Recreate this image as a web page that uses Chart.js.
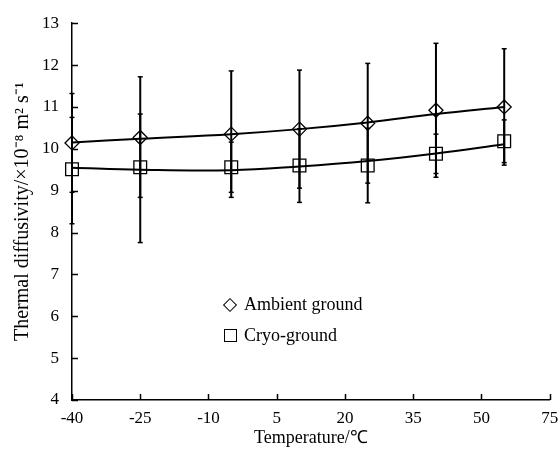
<!DOCTYPE html>
<html>
<head>
<meta charset="utf-8">
<script src="https://cdn.jsdelivr.net/npm/chart.js@4/dist/chart.umd.min.js"></script>
<style>
  html, body { margin: 0; padding: 0; background: #fff; }
  #wrap { position: relative; width: 560px; height: 466px; }
  #legend { position: absolute; left: 223px; top: 289px; font-family: "Liberation Serif", "Times New Roman", serif; font-size: 18px; color: #000; }
  .row { display: flex; align-items: center; height: 31px; }
  .mk { width: 14px; height: 14px; display: flex; align-items: center; justify-content: center; margin-right: 7px; }
  .dia { width: 8px; height: 8px; border: 1.3px solid #000; transform: rotate(45deg); }
  .sq { width: 11px; height: 11px; border: 1.2px solid #000; }
</style>
</head>
<body>
<div id="wrap">
  <canvas id="c" width="560" height="466"></canvas>
  <div id="legend">
    <div class="row"><span class="mk"><span class="dia"></span></span>Ambient ground</div>
    <div class="row"><span class="mk"><span class="sq"></span></span>Cryo-ground</div>
  </div>
</div>
<script>
// ---- data ----
const temps = [-40, -25, -5, 10, 25, 40, 55];
const ambient = [10.14, 10.27, 10.35, 10.47, 10.61, 10.92, 11.00];
const cryo = [9.51, 9.56, 9.56, 9.60, 9.60, 9.88, 10.18];
// error bar extents (upper / lower)
const ambientErrUp = [1.18, 1.45, 1.51, 1.41, 1.43, 1.60, 1.39];
const ambientErrDown = [1.18, 1.43, 1.51, 1.41, 1.43, 1.60, 1.39];
const cryoErrUp = [1.24, 1.27, 0.60, 0.88, 0.89, 0.47, 0.51];
const cryoErrDown = [1.30, 1.80, 0.60, 0.88, 0.89, 0.47, 0.51];
// trend curves at the same temperatures
const ambientTrend = [10.15, 10.24, 10.35, 10.47, 10.63, 10.83, 11.00];
const cryoTrend = [9.55, 9.50, 9.49, 9.58, 9.71, 9.89, 10.11];
// axis ticks (the reference's last tick, at 65, is labelled "75")
const xTickValues = [-40, -25, -10, 5, 20, 35, 50, 65];
const xTickLabels = ['-40', '-25', '-10', '5', '20', '35', '50', '75'];
const yTicks = [4, 5, 6, 7, 8, 9, 10, 11, 12, 13];

const pts = (ys) => temps.map((t, i) => ({ x: t, y: ys[i] }));
const errPts = (ys, up, down) => {
  const d = [];
  temps.forEach((t, i) => {
    d.push({ x: t, y: ys[i] + up[i] }, { x: t, y: ys[i] - down[i] }, { x: t, y: null });
  });
  return d;
};

const FONT = '"Liberation Serif", "Times New Roman", serif';

const inwardTicks = {
  id: 'inwardTicks',
  afterDatasetsDraw(chart) {
    const { ctx, chartArea: { left, bottom }, scales: { x, y } } = chart;
    ctx.save();
    ctx.strokeStyle = '#000';
    ctx.lineWidth = 1.5;
    ctx.beginPath();
    y.ticks.forEach(t => {
      const py = Math.round(y.getPixelForValue(t.value)) + 0.5;
      ctx.moveTo(left, py); ctx.lineTo(left + 6, py);
    });
    x.ticks.forEach(t => {
      const px = Math.round(x.getPixelForValue(t.value)) + 0.5;
      ctx.moveTo(px, bottom); ctx.lineTo(px, bottom - 6);
    });
    ctx.stroke();
    ctx.restore();
  }
};

new Chart(document.getElementById('c'), {
  type: 'scatter',
  data: {
    datasets: [
      { label: 'Ambient error', data: errPts(ambient, ambientErrUp, ambientErrDown), showLine: true, spanGaps: false, clip: false,
        borderColor: '#000', borderWidth: 2, pointStyle: 'line', pointRadius: 2.5, pointBorderWidth: 1.5,
        pointBorderColor: '#000', pointBackgroundColor: '#000' },
      { label: 'Cryo error', data: errPts(cryo, cryoErrUp, cryoErrDown), showLine: true, spanGaps: false, clip: false,
        borderColor: '#000', borderWidth: 2, pointStyle: 'line', pointRadius: 2.5, pointBorderWidth: 1.5,
        pointBorderColor: '#000', pointBackgroundColor: '#000' },
      { label: 'Ambient trend', data: pts(ambientTrend), showLine: true, tension: 0.4, clip: false,
        borderColor: '#000', borderWidth: 2, pointRadius: 0 },
      { label: 'Cryo trend', data: pts(cryoTrend), showLine: true, tension: 0.4, clip: false,
        borderColor: '#000', borderWidth: 2, pointRadius: 0 },
      { label: 'Ambient ground', data: pts(ambient), showLine: false, pointStyle: 'rectRot', pointRadius: 7, clip: false,
        pointBorderColor: '#000', pointBackgroundColor: 'rgba(255,255,255,0)', pointBorderWidth: 1.3 },
      { label: 'Cryo-ground', data: pts(cryo), showLine: false, pointStyle: 'rect', pointRadius: 9, clip: false,
        pointBorderColor: '#000', pointBackgroundColor: 'rgba(255,255,255,0)', pointBorderWidth: 1.3 }
    ]
  },
  options: {
    responsive: false,
    animation: false,
    devicePixelRatio: 1,
    layout: { padding: { top: 22, right: 8, left: 0, bottom: 0 } },
    plugins: { legend: { display: false }, tooltip: { enabled: false } },
    scales: {
      x: {
        type: 'linear', min: -40, max: 65,
        afterBuildTicks: (s) => { s.ticks = xTickValues.map(v => ({ value: v })); },
        afterFit: (s) => { s.height = 66; s.paddingRight = 0; s.paddingLeft = 0; },
        grid: { display: true, drawOnChartArea: false, drawTicks: false },
        border: { color: '#000', width: 1.5 },
        ticks: { color: '#000', font: { family: FONT, size: 17 }, padding: 8, maxRotation: 0, autoSkip: false,
          callback: (v, i) => xTickLabels[i] },
        title: { display: true, text: 'Temperature/℃', color: '#000', font: { family: FONT, size: 18 }, padding: { top: 0, bottom: 17 } }
      },
      y: {
        type: 'linear', min: 4, max: 13,
        afterBuildTicks: (s) => { s.ticks = yTicks.map(v => ({ value: v })); },
        afterFit: (s) => { s.width = 72; },
        grid: { display: true, drawOnChartArea: false, drawTicks: false },
        border: { color: '#000', width: 1.5 },
        ticks: { color: '#000', font: { family: FONT, size: 17 }, padding: 13, autoSkip: false },
        title: { display: true, text: 'Thermal diffusivity/×10⁻⁸ m² s⁻¹', color: '#000', font: { family: FONT, size: 20 }, padding: { top: 11, bottom: 0 } }
      }
    }
  },
  plugins: [inwardTicks]
});
</script>
</body>
</html>
